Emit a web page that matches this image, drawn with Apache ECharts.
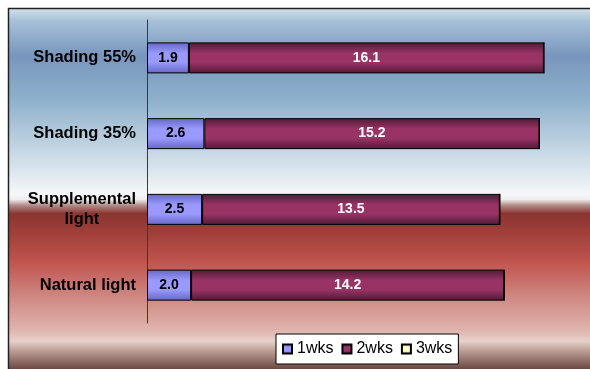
<!DOCTYPE html>
<html>
<head>
<meta charset="utf-8">
<style>
  html, body { margin: 0; padding: 0; background: #fff; }
  #main { width: 590px; height: 369px; }
</style>
<script src="https://cdn.jsdelivr.net/npm/echarts@6/dist/echarts.min.js"></script>
</head>
<body>
<div id="main"></div>
<script>
var categories = ['Shading 55%', 'Shading 35%', 'Supplemental\nlight', 'Natural light'];
var seriesNames = ['1wks', '2wks', '3wks'];
var wk1 = [1.9, 2.6, 2.5, 2.0];
var wk2 = [16.1, 15.2, 13.5, 14.2];
var wk3 = [0, 0, 0, 0];

function barFill(edge, mid) {
    return {
        type: 'linear', x: 0, y: 0, x2: 0, y2: 1,
        colorStops: [
            { offset: 0, color: edge },
            { offset: 0.35, color: mid },
            { offset: 0.65, color: mid },
            { offset: 1, color: edge }
        ]
    };
}

// background of the plot frame
var bgStops = [
    [9, '#d3e3ee'], [22, '#a7c1d8'], [57, '#7896bd'], [100, '#8eb0cb'],
    [150, '#c3d6e3'], [195, '#f6f7f9'], [200, '#efecec'], [206, '#b08a86'],
    [214, '#8b3530'], [236, '#a3413c'], [262, '#c0544f'], [300, '#d08c86'],
    [330, '#dfb4ad'], [341, '#e6d1ca'], [352, '#b8978f'], [369, '#6a4842']
];

var myChart = echarts.init(document.getElementById('main'));

var option = {
    animation: false,
    graphic: [{
        type: 'rect',
        z: -10,
        shape: { x: 8.5, y: 8.5, width: 620, height: 380 },
        style: {
            fill: {
                type: 'linear', x: 0, y: 0, x2: 0, y2: 1,
                colorStops: bgStops.map(function (s) {
                    return { offset: (s[0] - 9) / 380, color: s[1] };
                })
            },
            stroke: '#222',
            lineWidth: 1.5
        }
    }],
    grid: { left: 147, top: 20, width: 441, height: 303 },
    legend: {
        data: seriesNames,
        icon: 'rect',
        left: 276,
        top: 334,
        padding: [7, 6, 7, 6],
        backgroundColor: '#fff',
        borderColor: '#000',
        borderWidth: 1,
        itemWidth: 9,
        itemHeight: 9,
        itemGap: 8,
        textStyle: { fontFamily: 'Liberation Sans', fontSize: 16, color: '#000' }
    },
    xAxis: {
        type: 'value',
        min: 0,
        max: 20,
        show: false
    },
    yAxis: {
        type: 'category',
        inverse: true,
        data: categories,
        axisLine: { lineStyle: { color: '#3a3a3a', width: 1 } },
        axisTick: { show: false },
        axisLabel: {
            margin: 11,
            formatter: function (v) {
                return v.split('\n').map(function (l) { return '{a|' + l + '}'; }).join('\n');
            },
            rich: {
                a: {
                    align: 'center',
                    fontFamily: 'Liberation Sans',
                    fontWeight: 'bold',
                    fontSize: 16.5,
                    lineHeight: 20,
                    color: '#000'
                }
            }
        }
    },
    series: [
        {
            name: '1wks', type: 'bar', stack: 'total', barWidth: 31,
            data: wk1,
            itemStyle: { color: barFill('#6666c0', '#9999ff'), borderColor: '#000', borderWidth: 1 },
            label: {
                show: true, position: 'inside', formatter: function (p) { return p.value.toFixed(1); },
                fontFamily: 'Liberation Sans', fontWeight: 'bold', fontSize: 14, color: '#000'
            }
        },
        {
            name: '2wks', type: 'bar', stack: 'total', barWidth: 31,
            data: wk2,
            itemStyle: { color: barFill('#4f1a35', '#993366'), borderColor: '#000', borderWidth: 1 },
            label: {
                show: true, position: 'inside', formatter: function (p) { return p.value.toFixed(1); },
                fontFamily: 'Liberation Sans', fontWeight: 'bold', fontSize: 14, color: '#fff'
            }
        },
        {
            name: '3wks', type: 'bar', stack: 'total', barWidth: 31,
            data: wk3,
            itemStyle: { color: barFill('#b0b08a', '#ffffcc'), borderColor: '#000', borderWidth: 1 }
        }
    ]
};

myChart.setOption(option);
</script>
</body>
</html>
